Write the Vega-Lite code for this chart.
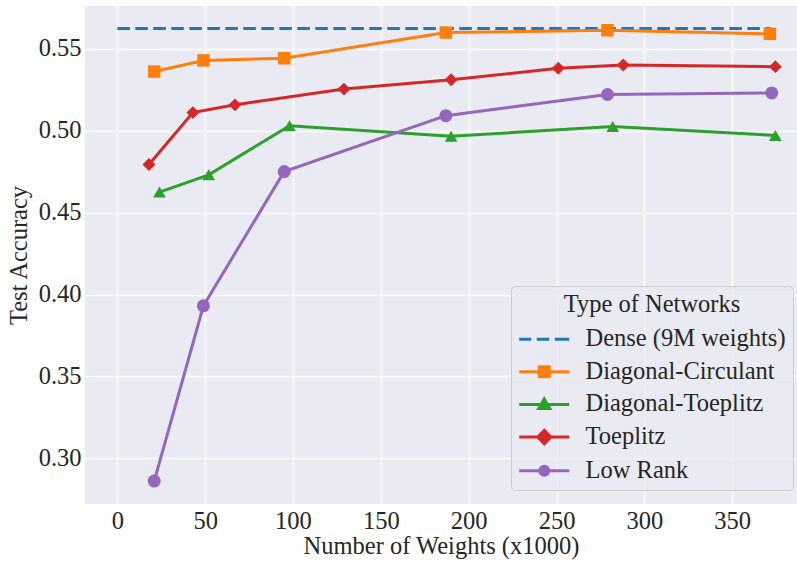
{
  "$schema": "https://vega.github.io/schema/vega-lite/v6.json",
  "width": 712,
  "height": 498,
  "autosize": {"type": "none"},
  "padding": {"left": 85, "top": 6, "right": 0, "bottom": 59},
  "background": "white",
  "config": {
    "view": {"fill": "#eaeaf2", "stroke": null},
    "font": "Liberation Serif",
    "axis": {
      "grid": true, "gridColor": "white", "gridWidth": 1.6,
      "domain": false, "ticks": false, "tickSize": 0,
      "labelFont": "Liberation Serif", "labelFontSize": 24.5, "labelColor": "#262626",
      "titleFont": "Liberation Serif", "titleFontSize": 24.5, "titleFontWeight": "normal", "titleColor": "#262626"
    }
  },
  "data": {
    "values": [
      {"series": "Dense (9M weights)", "w": 0, "acc": 0.5622},
      {"series": "Dense (9M weights)", "w": 372, "acc": 0.5622},
      {"series": "Diagonal-Circulant", "w": 21, "acc": 0.536},
      {"series": "Diagonal-Circulant", "w": 49, "acc": 0.5428},
      {"series": "Diagonal-Circulant", "w": 95, "acc": 0.5441},
      {"series": "Diagonal-Circulant", "w": 187, "acc": 0.5598},
      {"series": "Diagonal-Circulant", "w": 279, "acc": 0.5612},
      {"series": "Diagonal-Circulant", "w": 371.5, "acc": 0.559},
      {"series": "Diagonal-Toeplitz", "w": 24, "acc": 0.4625},
      {"series": "Diagonal-Toeplitz", "w": 52, "acc": 0.473},
      {"series": "Diagonal-Toeplitz", "w": 98, "acc": 0.503},
      {"series": "Diagonal-Toeplitz", "w": 190, "acc": 0.4965},
      {"series": "Diagonal-Toeplitz", "w": 282, "acc": 0.5025},
      {"series": "Diagonal-Toeplitz", "w": 374.6, "acc": 0.497},
      {"series": "Toeplitz", "w": 18, "acc": 0.4793},
      {"series": "Toeplitz", "w": 43, "acc": 0.511},
      {"series": "Toeplitz", "w": 67, "acc": 0.5157},
      {"series": "Toeplitz", "w": 129, "acc": 0.5253},
      {"series": "Toeplitz", "w": 190, "acc": 0.531},
      {"series": "Toeplitz", "w": 251, "acc": 0.538},
      {"series": "Toeplitz", "w": 288, "acc": 0.540},
      {"series": "Toeplitz", "w": 374.6, "acc": 0.539},
      {"series": "Low Rank", "w": 21, "acc": 0.2862},
      {"series": "Low Rank", "w": 49, "acc": 0.3931},
      {"series": "Low Rank", "w": 95, "acc": 0.475},
      {"series": "Low Rank", "w": 187, "acc": 0.5091},
      {"series": "Low Rank", "w": 279, "acc": 0.522},
      {"series": "Low Rank", "w": 372.5, "acc": 0.523}
    ]
  },
  "encoding": {
    "x": {
      "field": "w", "type": "quantitative",
      "scale": {"domain": [-18.4, 386.9], "nice": false, "zero": false},
      "axis": {"values": [0, 50, 100, 150, 200, 250, 300, 350], "labelPadding": 5, "title": "Number of Weights (x1000)", "titlePadding": 2}
    },
    "y": {
      "field": "acc", "type": "quantitative",
      "scale": {"domain": [0.2722, 0.576], "nice": false, "zero": false},
      "axis": {"values": [0.30, 0.35, 0.40, 0.45, 0.50, 0.55], "format": ".2f", "labelPadding": 4, "title": "Test Accuracy", "titlePadding": 7}
    }
  },
  "layer": [
    {
      "transform": [{"filter": "datum.series === 'Dense (9M weights)'"}],
      "mark": {"type": "line", "strokeWidth": 3, "strokeDash": [12.5, 5.5]},
      "encoding": {
        "color": {
          "field": "series", "type": "nominal",
          "scale": {
            "domain": ["Dense (9M weights)", "Diagonal-Circulant", "Diagonal-Toeplitz", "Toeplitz", "Low Rank"],
            "range": ["#1f77b4", "#ff7f0e", "#2ca02c", "#d62728", "#9467bd"]
          },
          "legend": {
            "title": "Type of Networks",
            "orient": "none", "legendX": 426, "legendY": 280,
            "titleAnchor": "middle",
            "titleFont": "Liberation Serif", "titleFontSize": 24.5, "titleFontWeight": "normal", "titleColor": "#262626",
            "labelFont": "Liberation Serif", "labelFontSize": 24.5, "labelColor": "#262626", "labelLimit": 400,
            "fillColor": "rgba(234,234,242,0.8)", "strokeColor": "#cccccc", "cornerRadius": 4,
            "padding": 7, "rowPadding": 7.6, "titlePadding": 9.5,
            "symbolSize": 100, "labelOffset": 43, "symbolStrokeWidth": 3,
            "encode": {
              "symbols": {
                "update": {
                  "shape": {"signal": "datum.value === 'Dense (9M weights)' ? 'M-2.2,0H0.2M1.3,0H3.8M4.9,0H7.8' : datum.value === 'Diagonal-Circulant' ? 'M-2.2,0H7.8M1.8,-1H3.8V1H1.8Z' : datum.value === 'Diagonal-Toeplitz' ? 'M-2.2,0H7.8M2.8,-1.1L3.9,0.8L1.7,0.8Z' : datum.value === 'Toeplitz' ? 'M-2.2,0H7.8M2.8,-1.35L4.1,0L2.8,1.35L1.5,0Z' : 'M-2.2,0H7.8M1.9,0A0.9,0.9 0 1,1 3.7,0A0.9,0.9 0 1,1 1.9,0Z'"},
                  "fill": {"signal": "scale('color', datum.value)"},
                  "stroke": {"signal": "scale('color', datum.value)"},
                  "strokeWidth": {"value": 3},
                  "strokeDash": {"value": []},
                  "opacity": {"value": 1},
                  "fillOpacity": {"value": 1},
                  "strokeOpacity": {"value": 1}
                }
              }
            }
          }
        }
      }
    },
    {
      "transform": [{"filter": "datum.series !== 'Dense (9M weights)'"}],
      "mark": {"type": "line", "strokeWidth": 3},
      "encoding": {
        "color": {"field": "series", "type": "nominal"}
      }
    },
    {
      "transform": [{"filter": "datum.series !== 'Dense (9M weights)'"}],
      "mark": {"type": "point", "filled": true, "opacity": 1, "strokeWidth": 0},
      "encoding": {
        "color": {"field": "series", "type": "nominal"},
        "shape": {
          "field": "series", "type": "nominal",
          "scale": {"domain": ["Diagonal-Circulant", "Diagonal-Toeplitz", "Toeplitz", "Low Rank"], "range": ["square", "triangle-up", "diamond", "circle"]},
          "legend": null
        },
        "size": {
          "field": "series", "type": "nominal",
          "scale": {"domain": ["Diagonal-Circulant", "Diagonal-Toeplitz", "Toeplitz", "Low Rank"], "range": [156, 169, 240, 132]},
          "legend": null
        }
      }
    }
  ]
}
